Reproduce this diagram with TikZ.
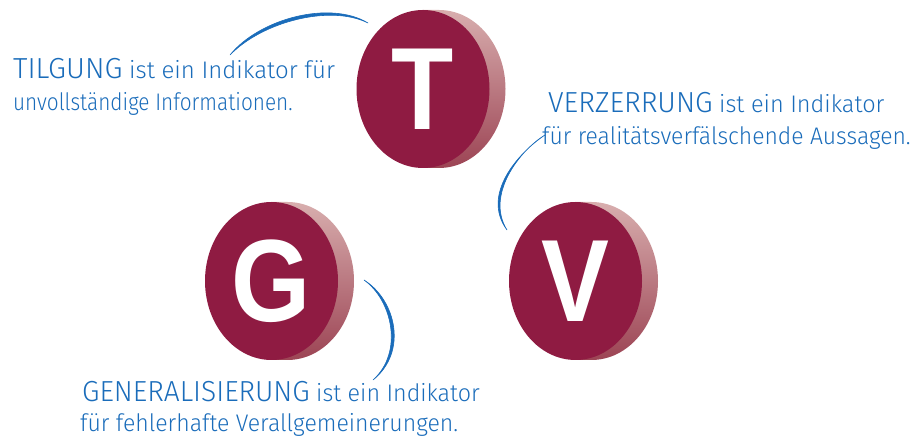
\documentclass[tikz,border=0pt]{standalone}
\usepackage{fontspec}
\usepackage{graphicx}
\setmainfont{Liberation Sans}
\newfontfamily\handfont{Fira Sans Light}
\usetikzlibrary{shapes.geometric}

\definecolor{discface}{RGB}{143,27,66}
\definecolor{rimlight}{RGB}{216,174,174}
\definecolor{rimdark}{RGB}{156,68,84}
\definecolor{inkblue}{RGB}{26,108,186}

% side band of a coin: back face shifted right, joined to the front
\newcommand\discrim[2]{%
  \shade[top color=rimlight, bottom color=rimdark]
    (#1,#2+79) -- (#1+16,#2+79)
    arc[start angle=90, end angle=-90, x radius=66.5pt, y radius=79pt]
    -- (#1,#2-79) -- cycle;}

\newcommand\capsword[1]{{\fontsize{29}{29}\selectfont #1}}
\newcommand\squeeze[2]{\scalebox{#1}[1]{#2}}

\tikzset{
  disc/.style={ellipse, fill=discface, minimum width=133pt, minimum height=158pt,
    inner sep=0pt, text=white, font=\fontsize{117}{117}\selectfont\bfseries},
  note/.style={anchor=base west, inner sep=0pt, text=inkblue,
    font=\handfont\fontsize{24}{24}\selectfont},
  pen/.style={fill=inkblue, draw=inkblue, line width=0.6pt, line cap=round, line join=round}
}

\begin{document}
\begin{tikzpicture}[x=1pt, y=1pt]
\useasboundingbox (0,0) rectangle (916,441);

% coins
\discrim{423}{352}
\discrim{271.5}{160}
\discrim{575.5}{160}
\node[disc] (T) at (423,352) {\squeeze{0.87}{T}};
\node[disc] (G) at (271.5,160) {\squeeze{0.87}{G}};
\node[disc] (V) at (575.5,160) {\squeeze{0.87}{V}};

% notes
\node[note] (tilg1) at (13,362) {\capsword{TILGUNG} ist ein Indikator für};
\node[note] (tilg2) at (13,330) {\squeeze{0.866}{unvollständige Informationen.}};
\node[note] (verz1) at (548,328) {\squeeze{0.98}{\capsword{VERZERRUNG} ist ein Indikator}};
\node[note] (verz2) at (542,296) {\squeeze{0.955}{für realitätsverfälschende Aussagen.}};
\node[note] (gen1) at (82,39) {\squeeze{0.97}{\capsword{GENERALISIERUNG} ist ein Indikator}};
\node[note] (gen2) at (80,9) {\squeeze{0.96}{für fehlerhafte Verallgemeinerungen.}};

% hand-drawn connectors
\coordinate (tA) at (230,386);
\coordinate (tB) at (368,418);
\coordinate (vA) at (545,306);
\coordinate (vB) at (507,211);
\coordinate (gA) at (364,161);
\coordinate (gB) at (373,61);

\fill[pen] (tA) .. controls (262,419) and (330,437) .. (tB)
  .. controls (330,441) and (259.5,422.5) .. (tA) -- cycle;
\fill[pen] (vA) .. controls (520,291) and (485,246) .. (vB)
  .. controls (481,246) and (517.5,287.5) .. (vA) -- cycle;
\fill[pen] (gA) .. controls (392,141) and (404,89) .. (gB)
  .. controls (408,89) and (396,141) .. (gA) -- cycle;
\end{tikzpicture}
\end{document}
